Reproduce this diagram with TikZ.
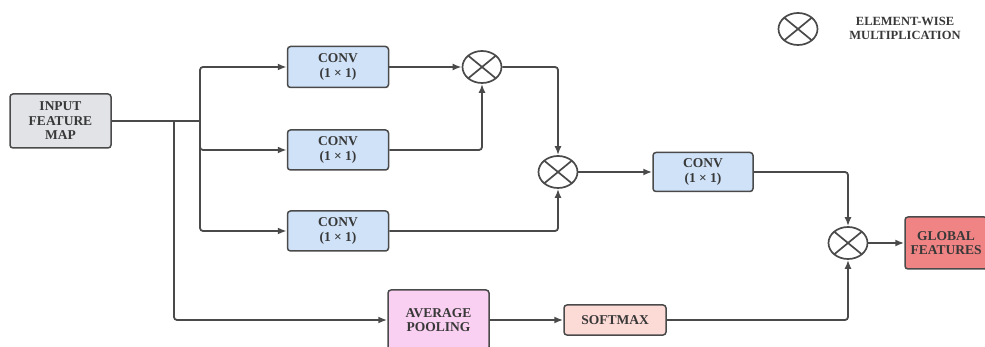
\documentclass[tikz,border=0pt]{standalone}
\usepackage{fontspec}
\setmainfont{Liberation Serif}
\usetikzlibrary{arrows.meta,shapes.geometric}
\definecolor{txt}{HTML}{383838}
\definecolor{edge}{HTML}{4A4A4A}
\definecolor{inputfill}{HTML}{E1E3E7}
\definecolor{convfill}{HTML}{CFE2F8}
\definecolor{avgfill}{HTML}{FAD0F2}
\definecolor{softfill}{HTML}{FCDAD6}
\definecolor{globfill}{HTML}{F08383}
\tikzset{
  box/.style={draw=edge, line width=1.5pt, rounded corners=3pt, align=center,
    text=txt, font=\fontsize{13.5}{14.5}\selectfont\bfseries, inner sep=0pt},
  mult/.style={draw=edge, line width=1.7pt, ellipse, minimum width=39pt, minimum height=32pt, inner sep=0pt,
    path picture={\draw[edge, line width=1.7pt] (path picture bounding box.north west) -- (path picture bounding box.south east)
      (path picture bounding box.south west) -- (path picture bounding box.north east);}},
  conn/.style={draw=edge, line width=1.8pt, rounded corners=3pt},
  arr/.style={conn, -{Latex[length=9pt,width=7pt]}},
}
\begin{document}
\begin{tikzpicture}[x=1pt,y=-1pt]
\useasboundingbox[fill=white] (0,0) rectangle (985,347);
% nodes
\node[box, fill=inputfill, minimum width=101pt, minimum height=54pt] (in) at (60.5,121) {INPUT\\FEATURE\\MAP};
\node[box, fill=convfill, minimum width=101pt, minimum height=41pt] (c1) at (338,67) {CONV\\(1 × 1)};
\node[box, fill=convfill, minimum width=101pt, minimum height=40pt] (c2) at (338,150) {CONV\\(1 × 1)};
\node[box, fill=convfill, minimum width=101pt, minimum height=40pt] (c3) at (338,231) {CONV\\(1 × 1)};
\node[box, fill=convfill, minimum width=100pt, minimum height=39pt] (c4) at (703,172) {CONV\\(1 × 1)};
\node[mult] (m1) at (482,67) {};
\node[mult] (m2) at (558,172) {};
\node[mult] (m3) at (848,243) {};
\node[box, fill=globfill, minimum width=82pt, minimum height=52pt] (gf) at (946,243) {GLOBAL\\FEATURES};
\node[box, fill=avgfill, minimum width=101pt, minimum height=60pt] (avg) at (438.5,320) {AVERAGE\\POOLING};
\node[box, fill=softfill, minimum width=102pt, minimum height=30pt] (sm) at (615,320) {SOFTMAX};
% legend
\node[mult] (lg) at (798,29) {};
\node[text=txt, font=\fontsize{12.5}{14}\selectfont\bfseries, align=center] (lgt) at (905,28) {ELEMENT-WISE\\MULTIPLICATION};
% junctions
\coordinate (j1) at (200,121);
\coordinate (j0) at (174,121);
% connectors
\draw[conn] (in.east) -- (j1);
\draw[arr] (j1) |- (c1.west);
\draw[arr] (j1) |- (c2.west);
\draw[arr] (j1) |- (c3.west);
\draw[arr] (j0) |- (avg.west);
\draw[arr] (c1.east) -- (m1.west);
\draw[arr] (c2.east) -| (m1.south);
\draw[arr] (m1.east) -| (m2.north);
\draw[arr] (c3.east) -| (m2.south);
\draw[arr] (m2.east) -- (c4.west);
\draw[arr] (c4.east) -| (m3.north);
\draw[arr] (avg.east) -- (sm.west);
\draw[arr] (sm.east) -| (m3.south);
\draw[arr] (m3.east) -- (gf.west);
\end{tikzpicture}
\end{document}
